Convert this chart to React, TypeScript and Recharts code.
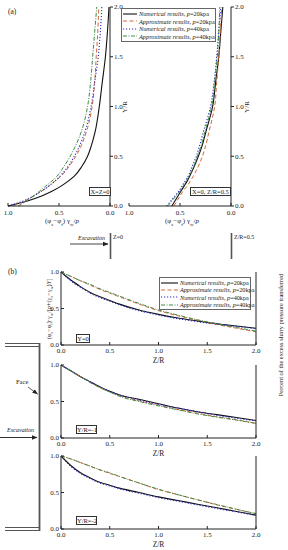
import React from 'react';
import { LineChart, Line, XAxis, YAxis } from 'recharts';

const FONT = '"Liberation Serif", "Times New Roman", serif';
const INK = '#222';

// (a) depth below crown, Y/R
const yOverR = [0, 0.05, 0.1, 0.15, 0.2, 0.25, 0.3, 0.4, 0.5, 0.6, 0.75, 1.0, 1.25, 1.5, 1.75, 2.0];

// (a) X = Z = 0
const faceNum20 = [1.0, 0.81, 0.67, 0.565, 0.48, 0.41, 0.35, 0.275, 0.22, 0.185, 0.145, 0.105, 0.075, 0.045, 0.025, 0.01];
const faceApp20 = [0.95, 0.84, 0.75, 0.67, 0.6, 0.54, 0.48, 0.4, 0.335, 0.285, 0.23, 0.175, 0.15, 0.135, 0.12, 0.11];
const faceNum40 = [1.0, 0.85, 0.75, 0.67, 0.6, 0.54, 0.49, 0.41, 0.35, 0.3, 0.245, 0.185, 0.15, 0.115, 0.095, 0.08];
const faceApp40 = [0.9, 0.82, 0.75, 0.69, 0.63, 0.57, 0.52, 0.45, 0.39, 0.34, 0.28, 0.22, 0.19, 0.17, 0.15, 0.13];

// (a) X = 0, Z/R = 0.5
const aheadNum20 = [0.58, 0.55, 0.52, 0.49, 0.46, 0.43, 0.405, 0.36, 0.32, 0.285, 0.245, 0.18, 0.15, 0.12, 0.1, 0.08];
const aheadApp20 = [0.56, 0.53, 0.5, 0.47, 0.43, 0.4, 0.37, 0.32, 0.28, 0.25, 0.215, 0.16, 0.14, 0.12, 0.105, 0.09];
const aheadNum40 = [0.63, 0.59, 0.55, 0.51, 0.48, 0.45, 0.42, 0.38, 0.34, 0.31, 0.27, 0.2, 0.165, 0.14, 0.12, 0.1];
const aheadApp40 = [0.62, 0.58, 0.54, 0.5, 0.47, 0.44, 0.41, 0.365, 0.33, 0.295, 0.255, 0.19, 0.16, 0.135, 0.12, 0.11];

// (b) distance ahead of the face, Z/R
const zOverR = [0, 0.1, 0.2, 0.3, 0.4, 0.5, 0.6, 0.8, 1.0, 1.2, 1.4, 1.6, 1.8, 2.0];

const y0Num20 = [1.0, 0.89, 0.8, 0.72, 0.66, 0.61, 0.56, 0.48, 0.42, 0.37, 0.33, 0.29, 0.26, 0.23];
const y0App20 = [1.0, 0.94, 0.88, 0.82, 0.76, 0.71, 0.66, 0.56, 0.47, 0.4, 0.34, 0.28, 0.23, 0.18];
const y0Num40 = [1.0, 0.88, 0.79, 0.71, 0.65, 0.6, 0.55, 0.47, 0.41, 0.36, 0.32, 0.285, 0.255, 0.225];
const y0App40 = [1.0, 0.94, 0.88, 0.83, 0.77, 0.72, 0.67, 0.57, 0.48, 0.41, 0.345, 0.29, 0.24, 0.19];

const y1Num20 = [1.0, 0.92, 0.84, 0.77, 0.7, 0.64, 0.59, 0.53, 0.47, 0.41, 0.36, 0.32, 0.28, 0.24];
const y1App20 = [1.0, 0.92, 0.84, 0.76, 0.69, 0.63, 0.58, 0.51, 0.45, 0.39, 0.34, 0.29, 0.25, 0.2];
const y1Num40 = [1.0, 0.92, 0.84, 0.77, 0.7, 0.64, 0.59, 0.52, 0.46, 0.41, 0.36, 0.31, 0.27, 0.235];
const y1App40 = [1.0, 0.92, 0.84, 0.76, 0.69, 0.63, 0.57, 0.5, 0.44, 0.385, 0.33, 0.285, 0.245, 0.2];

const y2Num20 = [1.0, 0.87, 0.77, 0.7, 0.64, 0.6, 0.56, 0.5, 0.44, 0.39, 0.34, 0.29, 0.24, 0.19];
const y2App20 = [1.0, 0.96, 0.91, 0.86, 0.81, 0.76, 0.72, 0.63, 0.54, 0.47, 0.4, 0.33, 0.27, 0.21];
const y2Num40 = [1.0, 0.86, 0.76, 0.69, 0.63, 0.59, 0.55, 0.49, 0.43, 0.38, 0.33, 0.28, 0.235, 0.185];
const y2App40 = [1.0, 0.96, 0.91, 0.86, 0.81, 0.77, 0.72, 0.63, 0.545, 0.47, 0.4, 0.335, 0.27, 0.21];

const seriesNames = ['Numerical results', 'Approximate results', 'Numerical results', 'Approximate results'];
const seriesPressure = ['20', '20', '40', '40'];

const SERIES = [
  { key: 'n20', color: '#111111', dash: undefined, width: 1.1 },
  { key: 'a20', color: '#d2683a', dash: '4 2.5', width: 1 },
  { key: 'n40', color: '#2b2bc8', dash: '1.2 1.8', width: 1.1 },
  { key: 'a40', color: '#3f8a46', dash: '4 1.5 1 1.5', width: 1 },
];

const tickStyle = { fontSize: 7, fill: INK, fontFamily: FONT };

const fmt1 = (v: number) => v.toFixed(1);

const renderLines = (extra: any = {}) =>
  SERIES.map((s) => (
    <Line
      key={s.key}
      {...extra}
      type="monotone"
      dataKey={s.key}
      stroke={s.color}
      strokeWidth={s.width}
      strokeDasharray={s.dash}
      dot={false}
      isAnimationActive={false}
    />
  ));

const ProfileChart = ({ left, n20, a20, n40, a40 }: any) => {
  const data = yOverR.map((y, i) => ({ y, n20: n20[i], a20: a20[i], n40: n40[i], a40: a40[i] }));
  return (
    <div style={{ position: 'absolute', left, top: 0 }}>
      <LineChart layout="vertical" width={132} height={220} data={data} margin={{ top: 7, left: 8, right: 0, bottom: 0 }}>
        <XAxis
          type="number"
          domain={[0, 1]}
          reversed
          ticks={[0, 0.5, 1]}
          tickFormatter={fmt1}
          height={14}
          tickSize={-3}
          tickMargin={7}
          tick={tickStyle}
          stroke={INK}
        />
        <YAxis
          type="number"
          dataKey="y"
          orientation="right"
          reversed
          domain={[0, 2]}
          ticks={[0, 0.5, 1, 1.5, 2]}
          tickFormatter={fmt1}
          width={22}
          tickSize={3}
          tickMargin={1}
          tick={tickStyle}
          stroke={INK}
        />
        {renderLines()}
      </LineChart>
    </div>
  );
};

const DecayChart = ({ top, n20, a20, n40, a40 }: any) => {
  const data = zOverR.map((z, i) => ({ z, n20: n20[i], a20: a20[i], n40: n40[i], a40: a40[i] }));
  return (
    <div style={{ position: 'absolute', left: 0, top }}>
      <LineChart width={276} height={106} data={data} margin={{ top: 10, left: 0, right: 0, bottom: 4 }}>
        <XAxis
          xAxisId="b"
          type="number"
          dataKey="z"
          domain={[0, 2]}
          ticks={[0, 0.5, 1, 1.5, 2]}
          tickFormatter={fmt1}
          height={19}
          tickSize={-3}
          tickMargin={6}
          tick={tickStyle}
          stroke={INK}
          label={{ value: 'Z/R', position: 'insideBottom', offset: 1, fontSize: 7.5, fill: INK, fontFamily: FONT }}
        />
        <XAxis xAxisId="t" orientation="top" type="number" dataKey="z" domain={[0, 2]} tick={false} tickLine={false} height={0} stroke={INK} />
        <YAxis
          yAxisId="l"
          type="number"
          domain={[0, 1]}
          ticks={[0, 0.5, 1]}
          tickFormatter={fmt1}
          width={61}
          tickSize={-3}
          tickMargin={5}
          tick={tickStyle}
          stroke={INK}
        />
        <YAxis
          yAxisId="r"
          orientation="right"
          type="number"
          domain={[0, 1]}
          ticks={[0, 0.2, 0.4, 0.6, 0.8, 1]}
          tickFormatter={(v: number) => `${Math.round((1 - v) * 100)}%`}
          width={20}
          tickSize={-3}
          tickMargin={6}
          tick={{ ...tickStyle, fontSize: 6 }}
          stroke={INK}
        />
        {renderLines({ xAxisId: 'b', yAxisId: 'l' })}
      </LineChart>
    </div>
  );
};

const LegendBox = ({ left, top, width, rowH, fontSize, sampleW }: any) => (
  <div
    style={{
      position: 'absolute', left, top, width, background: '#fff', border: '1px solid #666',
      padding: '1px 1px', fontFamily: FONT, fontSize, color: INK, boxSizing: 'border-box',
    }}
  >
    {SERIES.map((s, i) => (
      <div key={s.key} style={{ display: 'flex', alignItems: 'center', height: rowH, whiteSpace: 'nowrap' }}>
        <svg width={sampleW} height={4} style={{ marginRight: 2, flex: 'none' }}>
          <line x1={0} y1={2} x2={sampleW} y2={2} stroke={s.color} strokeWidth={s.width} strokeDasharray={s.dash} />
        </svg>
        <span><i>{seriesNames[i]}, p</i>={seriesPressure[i]}kpa</span>
      </div>
    ))}
  </div>
);

const Tag = ({ left, top, width, text }: any) => (
  <div
    style={{
      position: 'absolute', left, top, width, height: 9, border: '1px solid #333', boxSizing: 'border-box',
      fontFamily: FONT, fontSize: 6.5, lineHeight: '7px', textAlign: 'center', color: INK, background: '#fff',
    }}
  >
    {text}
  </div>
);

const Rot = ({ cx, cy, children, size = 7 }: any) => (
  <div
    style={{
      position: 'absolute', left: cx, top: cy, transform: 'translate(-50%, -50%) rotate(-90deg)',
      fontFamily: FONT, fontSize: size, whiteSpace: 'nowrap', color: INK, lineHeight: 1,
    }}
  >
    {children}
  </div>
);

const Txt = ({ x, y, children, size = 7, italic = false, center = false }: any) => (
  <div
    style={{
      position: 'absolute', left: x, top: y, transform: center ? 'translate(-50%, -50%)' : 'translateY(-50%)',
      fontFamily: FONT, fontSize: size, fontStyle: italic ? 'italic' : 'normal', whiteSpace: 'nowrap', color: INK, lineHeight: 1,
    }}
  >
    {children}
  </div>
);

const phiLabel = (
  <span>(φ<sub style={{ fontSize: '70%' }}>s</sub>−φ<sub style={{ fontSize: '70%' }}>f</sub>) γ<sub style={{ fontSize: '70%' }}>w</sub>/<i>p</i></span>
);

export default function App() {
  return (
    <div style={{ position: 'absolute', left: 0, top: 0, width: 288, height: 550, background: '#fff', overflow: 'hidden' }}>
      <ProfileChart left={0} n20={faceNum20} a20={faceApp20} n40={faceNum40} a40={faceApp40} />
      <ProfileChart left={121} n20={aheadNum20} a20={aheadApp20} n40={aheadNum40} a40={aheadApp40} />

      <DecayChart top={262} n20={y0Num20} a20={y0App20} n40={y0Num40} a40={y0App40} />
      <DecayChart top={355} n20={y1Num20} a20={y1App20} n40={y1Num40} a40={y1App40} />
      <DecayChart top={446} n20={y2Num20} a20={y2App20} n40={y2Num40} a40={y2App40} />

      <LegendBox left={121} top={8} width={95} rowH={7.5} fontSize={6.3} sampleW={14} />
      <LegendBox left={159} top={277} width={92} rowH={7.3} fontSize={6.2} sampleW={17} />

      <Tag left={89} top={187} width={22} text="X=Z=0" />
      <Tag left={190} top={187} width={41} text="X=0, Z/R=0.5" />
      <Tag left={76} top={334} width={14} text="Y=0" />
      <Tag left={76} top={425} width={21} text="Y/R=-1" />
      <Tag left={76} top={516} width={21} text="Y/R=-2" />

      <Txt x={8} y={12} size={7.5}>(a)</Txt>
      <Txt x={8} y={272} size={7.5}>(b)</Txt>

      <Rot cx={125} cy={107}>Y/R</Rot>
      <Rot cx={247} cy={107}>Y/R</Rot>
      <Txt x={62} y={223} size={7} center>{phiLabel}</Txt>
      <Txt x={182} y={223} size={7} center>{phiLabel}</Txt>

      <Rot cx={50} cy={309} size={6.3}>
        (φ<sub style={{ fontSize: '70%' }}>s</sub>−φ<sub style={{ fontSize: '70%' }}>f</sub>)·γ<sub style={{ fontSize: '70%' }}>w</sub>/[<i>p</i>+(γ<sub style={{ fontSize: '70%' }}>s</sub>−γ<sub style={{ fontSize: '70%' }}>w</sub>)<i>Y</i>]
      </Rot>
      <Rot cx={281} cy={335} size={6.4}>Percent of the excess slurry pressure transferred</Rot>

      <Txt x={78} y={238} size={6} italic>Excavation</Txt>
      <Txt x={113} y={237} size={6}>Z=0</Txt>
      <Txt x={234} y={237} size={6}>Z/R=0.5</Txt>
      <Txt x={16} y={382} size={6.5}>Face</Txt>
      <Txt x={7} y={430} size={6} italic>Excavation</Txt>

      <svg width={288} height={550} style={{ position: 'absolute', left: 0, top: 0, pointerEvents: 'none' }}>
        <defs>
          <marker id="ah" markerWidth="6" markerHeight="6" refX="5" refY="3" orient="auto" markerUnits="userSpaceOnUse">
            <path d="M0,0.8 L5.5,3 L0,5.2 Z" fill="#222" />
          </marker>
        </defs>
        {/* excavation direction under (a) */}
        <line x1={70} y1={244} x2={108} y2={244} stroke="#444" strokeWidth={1} markerEnd="url(#ah)" />
        <line x1={110.5} y1={233} x2={110.5} y2={259} stroke="#555" strokeWidth={1.6} />
        <line x1={231.5} y1={233} x2={231.5} y2={259} stroke="#555" strokeWidth={1.6} />
        {/* tunnel sketch beside (b) */}
        <line x1={5} y1={343.5} x2={40} y2={343.5} stroke="#555" strokeWidth={1} />
        <line x1={5} y1={346.5} x2={40} y2={346.5} stroke="#555" strokeWidth={1} />
        <line x1={5} y1={527.5} x2={40} y2={527.5} stroke="#555" strokeWidth={1} />
        <line x1={5} y1={530.5} x2={40} y2={530.5} stroke="#555" strokeWidth={1} />
        <line x1={39.5} y1={343} x2={39.5} y2={531} stroke="#555" strokeWidth={1.8} />
        <line x1={28} y1={387} x2={37.5} y2={394} stroke="#333" strokeWidth={0.8} markerEnd="url(#ah)" />
        <line x1={0} y1={437.5} x2={37} y2={437.5} stroke="#333" strokeWidth={1} markerEnd="url(#ah)" />
      </svg>
    </div>
  );
}
